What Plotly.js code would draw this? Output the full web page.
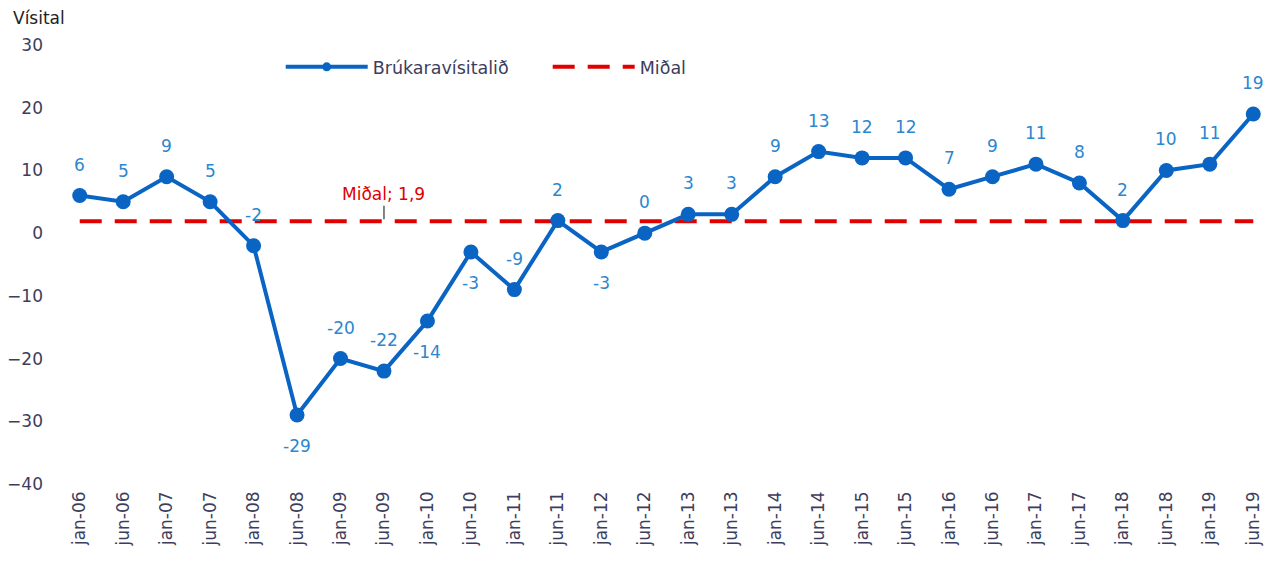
<!DOCTYPE html>
<html>
<head>
<meta charset="utf-8">
<script src="https://cdn.plot.ly/plotly-3.0.1.min.js"></script>
<style>html,body{margin:0;padding:0;background:#fff;}#chart{width:1280px;height:563px;}</style>
</head>
<body>
<div id="chart"></div>
<script>
const categories = ["jan-06","jun-06","jan-07","jun-07","jan-08","jun-08","jan-09","jun-09","jan-10","jun-10","jan-11","jun-11","jan-12","jun-12","jan-13","jun-13","jan-14","jun-14","jan-15","jun-15","jan-16","jun-16","jan-17","jun-17","jan-18","jun-18","jan-19","jun-19"];
const indexValues = [6,5,9,5,-2,-29,-20,-22,-14,-3,-9,2,-3,0,3,3,9,13,12,12,7,9,11,8,2,10,11,19];
// label placement: 1 = above the point, -1 = below
const labelSides = [1,1,1,1,1,-1,1,1,-1,-1,1,1,-1,1,1,1,1,1,1,1,1,1,1,1,1,1,1,1];
const meanValue = 1.9;
const meanLabel = "Miðal; 1,9";
const seriesName = "Brúkaravísitalið";
const meanName = "Miðal";
const yTitle = "Vísital";

const FONT = "DejaVu Sans, Verdana, sans-serif";
const TXT = "#3d3d5c";
const BLUE = "#0a64c4";
const LABEL_BLUE = "#2b87cf";

const traces = [
  {
    x: categories, y: categories.map(() => meanValue), xaxis: "x2", yaxis: "y",
    name: meanName, type: "scatter", mode: "lines",
    line: {color: "#e00000", width: 4, dash: "22px,13px"},
    hoverinfo: "skip", legendrank: 2
  },
  {
    x: categories, y: indexValues, xaxis: "x2", yaxis: "y",
    name: seriesName, type: "scatter", mode: "lines+markers",
    line: {color: BLUE, width: 4},
    marker: {color: BLUE, size: 15},
    cliponaxis: false, showlegend: false
  },
  {
    // legend entry only (smaller marker, as in the original legend)
    x: [null], y: [null], xaxis: "x2", yaxis: "y",
    name: seriesName, type: "scatter", mode: "lines+markers",
    line: {color: BLUE, width: 4},
    marker: {color: BLUE, size: 9},
    showlegend: true, hoverinfo: "skip", legendrank: 1
  }
];

const dataLabels = categories.map((c, i) => ({
  xref: "x2", yref: "y", x: c, y: indexValues[i],
  text: String(indexValues[i]), showarrow: false,
  yshift: labelSides[i] * 31, yanchor: "middle",
  font: {family: FONT, size: 17, color: LABEL_BLUE}
}));

const layout = {
  width: 1280, height: 563,
  margin: {l: 58, r: 5, t: 45, b: 79},
  paper_bgcolor: "#fff", plot_bgcolor: "#fff",
  font: {family: FONT, size: 17, color: TXT},
  showlegend: true,
  legend: {
    orientation: "h", x: 0.183, y: 0.95, xanchor: "left", yanchor: "middle",
    font: {family: FONT, size: 17.5, color: TXT},
    bgcolor: "rgba(0,0,0,0)",
    itemwidth: 82, entrywidth: 170, entrywidthmode: "pixels"
  },
  xaxis: {
    type: "category", categoryorder: "array", categoryarray: categories,
    range: [-0.5, categories.length - 0.5],
    anchor: "free", position: 40 / 70,
    showline: true, linecolor: "#d9d9d9", linewidth: 1,
    ticks: "outside", tickson: "boundaries", ticklen: 6, tickcolor: "#d9d9d9",
    showticklabels: false, showgrid: false, zeroline: false, fixedrange: true
  },
  xaxis2: {
    type: "category", categoryorder: "array", categoryarray: categories,
    range: [-0.5, categories.length - 0.5],
    overlaying: "x", anchor: "y", side: "bottom",
    showline: false, ticks: "", showgrid: false, zeroline: false,
    tickangle: -90, tickfont: {family: FONT, size: 17, color: TXT},
    ticklabelstandoff: 3
  },
  yaxis: {
    range: [-40, 30], dtick: 10, tick0: 0,
    showgrid: false, zeroline: false, showline: false, ticks: "",
    tickfont: {family: FONT, size: 17, color: TXT},
    ticklabelstandoff: 14
  },
  annotations: [
    {
      xref: "x2", yref: "y", x: categories[7], y: meanValue,
      text: meanLabel, showarrow: true, arrowhead: 0, arrowwidth: 1.2, arrowcolor: "#333",
      ax: 0, ay: -27, standoff: 2,
      font: {family: FONT, size: 17, color: "#e00000"}
    },
    {
      xref: "paper", yref: "paper", x: 0, y: 1, xanchor: "left", yanchor: "middle",
      xshift: -47, yshift: 27, showarrow: false, text: yTitle,
      font: {family: FONT, size: 17, color: "#222"}
    }
  ].concat(dataLabels)
};

Plotly.newPlot("chart", traces, layout, {displayModeBar: false, staticPlot: true});
</script>
</body>
</html>
